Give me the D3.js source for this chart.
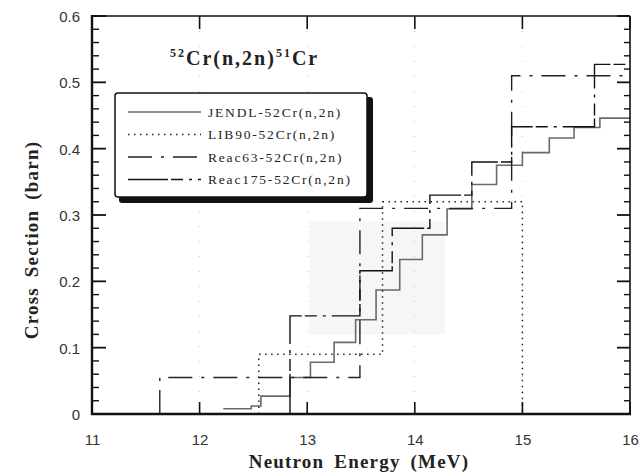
<!DOCTYPE html>
<html>
<head>
<meta charset="utf-8">
<script src="https://cdn.jsdelivr.net/npm/d3@7"></script>
<style>
  body { margin: 0; background: #fff; }
  svg { display: block; }
</style>
</head>
<body>
<div id="plot"></div>
<script>
// energies (MeV) where each step starts, and the cross section (barn) from there on
const jendlE  = [12.22, 12.48, 12.57, 12.84, 13.03, 13.25, 13.45, 13.64, 13.86, 14.07, 14.30, 14.53, 14.76, 15.00, 15.25, 15.48, 15.72, 16.00];
const jendlXS = [0.008, 0.012, 0.027, 0.055, 0.078, 0.108, 0.142, 0.187, 0.233, 0.270, 0.309, 0.346, 0.375, 0.394, 0.416, 0.432, 0.446, 0.446];

const lib90E  = [12.55, 12.55, 13.70, 15.00];
const lib90XS = [0, 0.090, 0.320, 0];

const reac63E  = [11.63, 11.63, 13.49, 14.90, 16.00];
const reac63XS = [0, 0.055, 0.310, 0.510, 0.510];

const reac175E  = [12.84, 12.84, 13.49, 13.79, 14.14, 14.53, 14.90, 15.67, 16.00];
const reac175XS = [0, 0.148, 0.216, 0.280, 0.330, 0.380, 0.433, 0.527, 0.527];

const seriesNames = ["JENDL-52Cr(n,2n)", "LIB90-52Cr(n,2n)", "Reac63-52Cr(n,2n)", "Reac175-52Cr(n,2n)"];
const xTicks = [11, 12, 13, 14, 15, 16];
const yTicks = [0, 0.1, 0.2, 0.3, 0.4, 0.5, 0.6];
const yTickLabels = ["0", "0.1", "0.2", "0.3", "0.4", "0.5", "0.6"];

const W = 643, H = 476;
const margin = { top: 16, right: 13, bottom: 62, left: 92 };
const width = W - margin.left - margin.right;
const height = H - margin.top - margin.bottom;

const svg = d3.select("#plot").append("svg")
  .attr("width", W)
  .attr("height", H);

const g = svg.append("g")
  .attr("transform", `translate(${margin.left},${margin.top})`);

const x = d3.scaleLinear().domain([11, 16]).range([0, width]);
const y = d3.scaleLinear().domain([0, 0.6]).range([height, 0]);

// faint patch from the scanned original
g.append("rect")
  .attr("x", x(13.02)).attr("y", y(0.29))
  .attr("width", x(14.28) - x(13.02)).attr("height", y(0.12) - y(0.29))
  .attr("fill", "#f6f6f6");

// sparse dotted grid
g.selectAll(".vgrid")
  .data(xTicks.slice(1, -1))
  .enter().append("line")
  .attr("x1", d => x(d)).attr("x2", d => x(d))
  .attr("y1", 0).attr("y2", height)
  .attr("stroke", "#c8c8c8")
  .attr("stroke-width", 1)
  .attr("stroke-dasharray", "1,14");

// step lines
const step = d3.line()
  .x(d => x(d[0]))
  .y(d => y(d[1]))
  .curve(d3.curveStepAfter);

const series = [
  { e: jendlE, v: jendlXS, color: "#6a6a6a", w: 1.6, dash: null },
  { e: lib90E, v: lib90XS, color: "#222", w: 1.5, dash: "1.5,4.5" },
  { e: reac63E, v: reac63XS, color: "#222", w: 1.4, dash: "24,9,3,9" },
  { e: reac175E, v: reac175XS, color: "#111", w: 1.4, dash: "40,3,12,6,3,6" }
];

g.selectAll(".series")
  .data(series)
  .enter().append("path")
  .attr("class", "series")
  .attr("fill", "none")
  .attr("stroke", d => d.color)
  .attr("stroke-width", d => d.w)
  .attr("stroke-dasharray", d => d.dash)
  .attr("d", d => step(d.e.map((e, i) => [e, d.v[i]])));

// tick marks, drawn inward on all four sides
const yMinor = d3.range(0, 0.6001, 0.02);
const isMajor = (d, i) => i % 5 === 0;
const ticks = g.append("g");
ticks.selectAll("line.yl").data(yMinor).enter().append("line")
  .attr("class", "yl")
  .attr("x1", 0).attr("x2", (d, i) => isMajor(d, i) ? 14 : 7)
  .attr("y1", d => y(d)).attr("y2", d => y(d))
  .attr("stroke", "#111").attr("stroke-width", (d, i) => isMajor(d, i) ? 1.8 : 1.4);
ticks.selectAll("line.yr").data(yMinor).enter().append("line")
  .attr("class", "yr")
  .attr("x1", width).attr("x2", (d, i) => width - (isMajor(d, i) ? 13 : 6))
  .attr("y1", d => y(d)).attr("y2", d => y(d))
  .attr("stroke", "#111").attr("stroke-width", (d, i) => isMajor(d, i) ? 1.8 : 1.4);
ticks.selectAll("line.xb").data(xTicks).enter().append("line")
  .attr("class", "xb")
  .attr("x1", d => x(d)).attr("x2", d => x(d))
  .attr("y1", height).attr("y2", height - 12)
  .attr("stroke", "#111").attr("stroke-width", 1.6);
ticks.selectAll("line.xt").data(xTicks).enter().append("line")
  .attr("class", "xt")
  .attr("x1", d => x(d)).attr("x2", d => x(d))
  .attr("y1", 0).attr("y2", 13)
  .attr("stroke", "#111").attr("stroke-width", 1.6);

// tick labels via the axes
g.append("g")
  .call(d3.axisLeft(y).tickValues(yTicks).tickSize(0).tickPadding(12)
    .tickFormat((d, i) => yTickLabels[i]))
  .call(a => a.select(".domain").remove())
  .call(a => a.selectAll("text")
    .attr("font-family", "Liberation Sans, Arial, sans-serif")
    .attr("font-size", 15).attr("fill", "#333").attr("dy", "0.36em"));

g.append("g")
  .attr("transform", `translate(0,${height})`)
  .call(d3.axisBottom(x).tickValues(xTicks).tickSize(0).tickPadding(20).tickFormat(d3.format("d")))
  .call(a => a.select(".domain").remove())
  .call(a => a.selectAll("text")
    .attr("font-family", "Liberation Sans, Arial, sans-serif")
    .attr("font-size", 15).attr("fill", "#333"));

// frame
g.append("line").attr("x1", 0).attr("x2", width).attr("y1", 0).attr("y2", 0)
  .attr("stroke", "#111").attr("stroke-width", 1.6);
g.append("line").attr("x1", width).attr("x2", width).attr("y1", 0).attr("y2", height)
  .attr("stroke", "#111").attr("stroke-width", 1.6);
g.append("line").attr("x1", 0).attr("x2", 0).attr("y1", -1).attr("y2", height + 1)
  .attr("stroke", "#111").attr("stroke-width", 2.4);
g.append("line").attr("x1", -1).attr("x2", width + 1).attr("y1", height).attr("y2", height)
  .attr("stroke", "#111").attr("stroke-width", 2.4);

// title
const title = svg.append("text")
  .attr("x", 170).attr("y", 65)
  .attr("font-family", "Liberation Serif, Times New Roman, serif")
  .attr("font-size", 20).attr("font-weight", "bold").attr("fill", "#222")
  .attr("letter-spacing", 2);
title.append("tspan").attr("font-size", 12).attr("dy", -8).text("52");
title.append("tspan").attr("dy", 8).text("Cr(n,2n)");
title.append("tspan").attr("font-size", 12).attr("dy", -8).text("51");
title.append("tspan").attr("dy", 8).text("Cr");

// legend
const lg = svg.append("g").attr("transform", "translate(115,93)");
lg.append("rect").attr("x", 4).attr("y", 4).attr("width", 254).attr("height", 106)
  .attr("rx", 3).attr("fill", "#111");
lg.append("rect").attr("x", 0).attr("y", 0).attr("width", 252).attr("height", 104)
  .attr("rx", 3).attr("fill", "#fff").attr("stroke", "#111").attr("stroke-width", 1.5);

const legendRows = lg.selectAll(".row")
  .data(series)
  .enter().append("g")
  .attr("transform", (d, i) => `translate(0,${19 + i * 22.5})`);
legendRows.append("line")
  .attr("x1", 13).attr("x2", 86).attr("y1", 0).attr("y2", 0)
  .attr("stroke", d => d.color)
  .attr("stroke-width", d => d.w)
  .attr("stroke-dasharray", d => d.dash);
legendRows.append("text")
  .attr("x", 93).attr("y", 4.5)
  .attr("font-family", "Liberation Serif, Times New Roman, serif")
  .attr("font-size", 13.5).attr("fill", "#222")
  .attr("letter-spacing", 1.8)
  .text((d, i) => seriesNames[i]);

// axis titles
svg.append("text")
  .attr("x", margin.left + width / 2 - 2).attr("y", 468)
  .attr("text-anchor", "middle")
  .attr("font-family", "Liberation Serif, Times New Roman, serif")
  .attr("font-size", 19).attr("font-weight", "bold").attr("fill", "#222")
  .attr("letter-spacing", 1.2).attr("word-spacing", 4)
  .text("Neutron Energy (MeV)");

svg.append("text")
  .attr("transform", "translate(38,240) rotate(-90)")
  .attr("text-anchor", "middle")
  .attr("font-family", "Liberation Serif, Times New Roman, serif")
  .attr("font-size", 19).attr("font-weight", "bold").attr("fill", "#222")
  .attr("letter-spacing", 1.2).attr("word-spacing", 4)
  .text("Cross Section (barn)");
</script>
</body>
</html>
